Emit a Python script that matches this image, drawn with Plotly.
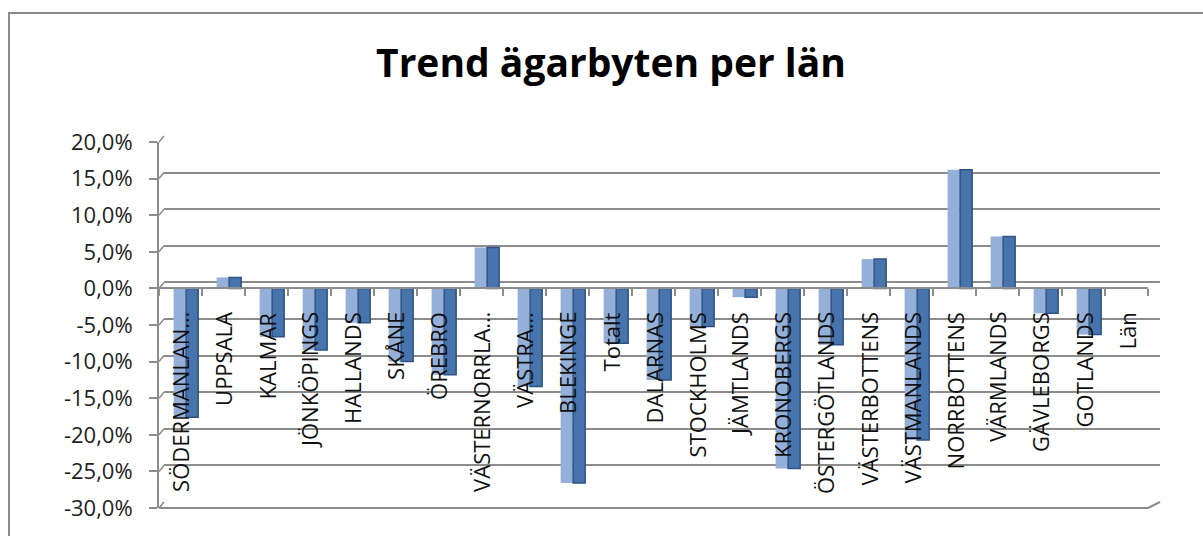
import plotly.graph_objects as go

# ---------------- data ----------------
categories = ["SÖDERMANLAN…", "UPPSALA", "KALMAR", "JÖNKÖPINGS", "HALLANDS", "SKÅNE",
              "ÖREBRO", "VÄSTERNORRLA…", "VÄSTRA…", "BLEKINGE", "Totalt", "DALARNAS",
              "STOCKHOLMS", "JÄMTLANDS", "KRONOBERGS", "ÖSTERGÖTLANDS", "VÄSTERBOTTENS",
              "VÄSTMANLANDS", "NORRBOTTENS", "VÄRMLANDS", "GÄVLEBORGS", "GOTLANDS", "Län"]
trend = [-17.6, 1.5, -6.6, -8.4, -4.7, -10.0, -11.8, 5.6, -13.4, -26.6, -7.5, -12.5,
         -5.2, -1.2, -24.6, -7.7, 4.0, -20.7, 16.2, 7.1, -3.4, -6.3, None]
tick_vals = [20, 15, 10, 5, 0, -5, -10, -15, -20, -25, -30]
tick_text = ["20,0%", "15,0%", "10,0%", "5,0%", "0,0%", "-5,0%", "-10,0%", "-15,0%",
             "-20,0%", "-25,0%", "-30,0%"]
title_text = "Trend ägarbyten per län"

# ---------------- layout helpers ----------------
W, H = 1203, 536
def fx(p):
    return p / W
def fy(p):
    return 1 - p / H

YMIN, YMAX = -30, 20
GRAY = "#8c8c8c"
LIGHT = "#95B0D8"
DARK = "#4774AC"
FONT = "Open Sans"

front_x = (159, 1148)
front_y = (508, 142)
back_x = (164, 1160)
back_y = (502, 136)

fig = go.Figure()

# grid (back wall) subplot - drawn first (below)
fig.add_trace(go.Scatter(x=categories, y=[None] * len(categories), xaxis="x", yaxis="y",
                         showlegend=False, hoverinfo="skip"))

# bars (front subplot)
fig.add_trace(go.Bar(x=categories, y=trend, xaxis="x2", yaxis="y2", offset=-0.16, width=0.28,
                     marker=dict(color=LIGHT, line=dict(width=0)), showlegend=False,
                     hoverinfo="skip"))
fig.add_trace(go.Bar(x=categories, y=trend, xaxis="x2", yaxis="y2", offset=0.13, width=0.28,
                     marker=dict(color=DARK, line=dict(width=1.5, color="#2E5283")),
                     showlegend=False, hoverinfo="skip"))

d2y = (fy(front_y[0]), fy(front_y[1]))
zero_pos = d2y[0] + (0 - YMIN) / (YMAX - YMIN) * (d2y[1] - d2y[0])

shapes = []
# chart border
shapes.append(dict(type="rect", xref="paper", yref="paper", x0=fx(9), x1=fx(1230),
                   y0=fy(13), y1=fy(570), line=dict(color="#8a8a8a", width=2)))
# front floor line
shapes.append(dict(type="line", xref="x2 domain", yref="y2 domain", x0=0, x1=1, y0=0, y1=0,
                   line=dict(color=GRAY, width=2)))
# floor right diagonal
shapes.append(dict(type="line", xref="paper", yref="paper", x0=fx(front_x[1]), y0=fy(front_y[0]),
                   x1=fx(back_x[1]), y1=fy(back_y[0]), line=dict(color=GRAY, width=2)))
# left wall diagonals
for v in tick_vals:
    shapes.append(dict(type="line", xref="paper", yref="paper", x0=fx(front_x[0]),
                       y0=d2y[0] + (v - YMIN) / (YMAX - YMIN) * (d2y[1] - d2y[0]),
                       x1=fx(back_x[0]),
                       y1=fy(back_y[0]) + (v - YMIN) / (YMAX - YMIN) * (fy(back_y[1]) - fy(back_y[0])),
                       line=dict(color=GRAY, width=1.5)))

annotations = []
for c in categories:
    annotations.append(dict(x=c, y=0, xref="x2", yref="y2", text=c, showarrow=False,
                            textangle=-90, xanchor="center", yanchor="top", yshift=-22,
                            font=dict(family=FONT, size=22, color="#111111")))

fig.update_layout(
    width=W, height=H, autosize=False,
    margin=dict(l=0, r=0, t=0, b=0, pad=0, autoexpand=False),
    paper_bgcolor="white", plot_bgcolor="rgba(0,0,0,0)",
    barmode="overlay",
    title=dict(text=title_text, x=fx(611), y=fy(63), xanchor="center", yanchor="middle",
               xref="paper", yref="paper", automargin=False,
               font=dict(family=FONT, size=39, color="#000000", weight="bold")),
    xaxis=dict(domain=[fx(back_x[0]), fx(back_x[1])], range=[-0.5, len(categories) - 0.5],
               visible=False, showgrid=False, automargin=False),
    yaxis=dict(domain=[fy(back_y[0]), fy(back_y[1])], range=[YMIN, YMAX], tickvals=tick_vals,
               showticklabels=False, ticks="", showgrid=True, gridcolor=GRAY, gridwidth=2,
               zeroline=False, showline=False, automargin=False),
    xaxis2=dict(domain=[fx(front_x[0]), fx(front_x[1])], range=[-0.5, len(categories) - 0.5],
                anchor="free", position=zero_pos, type="category", automargin=False,
                showline=True, linecolor=GRAY, linewidth=2,
                ticks="outside", tickson="boundaries", ticklen=7, tickwidth=2, tickcolor=GRAY,
                showticklabels=False, showgrid=False, zeroline=False),
    yaxis2=dict(domain=[d2y[0], d2y[1]], range=[YMIN, YMAX], anchor="x2", automargin=False,
                tickvals=tick_vals, ticktext=tick_text, showgrid=False, zeroline=False,
                showline=True, linecolor=GRAY, linewidth=2, ticks="outside", ticklen=8,
                tickwidth=2, tickcolor=GRAY, ticklabelstandoff=12,
                tickfont=dict(family=FONT, size=22, color="#222222")),
    shapes=shapes,
    annotations=annotations,
)

fig.write_html(
    "out.html",
    config={"displayModeBar": False, "responsive": False},
    post_script="document.documentElement.style.overflow='hidden';"
                "document.body.style.margin='0';document.body.style.overflow='hidden';",
)
